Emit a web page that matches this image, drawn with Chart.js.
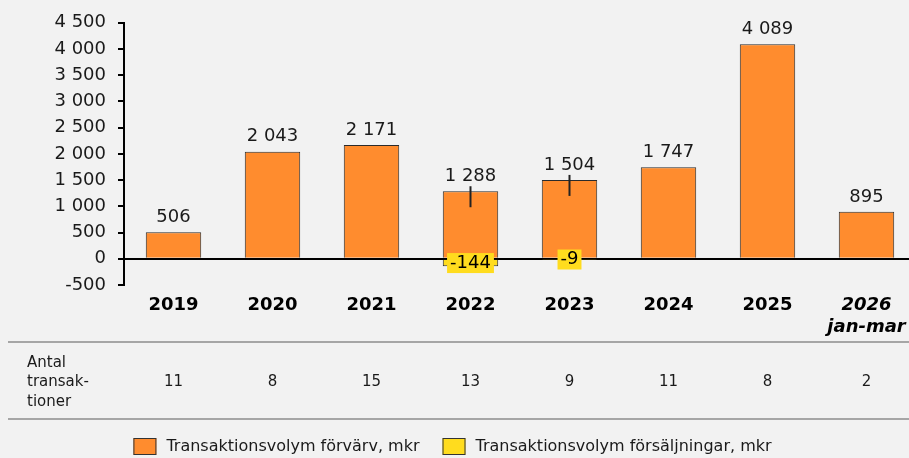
<!DOCTYPE html>
<html>
<head>
<meta charset="utf-8">
<script src="https://cdn.jsdelivr.net/npm/chart.js@4.4.1/dist/chart.umd.min.js"></script>
<style>
  html, body { margin: 0; padding: 0; background: #f2f2f2; overflow: hidden; }
  #wrap { position: relative; width: 916px; height: 458px; }
</style>
</head>
<body>
<div id="wrap"><canvas id="chart"></canvas></div>
<script>
// ---------- DATA ----------
let years = ["2019", "2020", "2021", "2022", "2023", "2024", "2025", ["2026", "jan-mar"]];
let acquisitions = [506, 2043, 2171, 1288, 1504, 1747, 4089, 895];
let sales = [null, null, null, -144, -9, null, null, null];
let transactions = [11, 8, 15, 13, 9, 11, 8, 2];
let tableHeader = ["Antal", "transak-", "tioner"];
let legendNames = ["Transaktionsvolym förvärv, mkr", "Transaktionsvolym försäljningar, mkr"];
let yMin = -500, yMax = 4500, yStep = 500;
let leaderLines = [3, 4]; // bars whose label has a small line down into the bar

const FONT = "'DejaVu Sans', Verdana, sans-serif";
const ORANGE = "#ff8c2e";
const YELLOW = "#ffdc1e";
const TEXT = "#1a1a1a";

function fmt(v) {
  let s = String(Math.abs(v)).replace(/\B(?=(\d{3})+(?!\d))/g, " ");
  return (v < 0 ? "-" : "") + s;
}

// ---------- LABELS ON BARS ----------
const barLabels = {
  id: "barLabels",
  afterDatasetsDraw(chart) {
    const ctx = chart.ctx;
    ctx.save();
    ctx.font = "18px " + FONT;
    ctx.textAlign = "center";
    ctx.textBaseline = "middle";

    chart.getDatasetMeta(0).data.forEach((bar, i) => {
      ctx.fillStyle = TEXT;
      ctx.fillText(fmt(acquisitions[i]), bar.x, bar.y - 15);
      if (leaderLines.includes(i)) {
        ctx.strokeStyle = "#222";
        ctx.lineWidth = 2;
        ctx.beginPath();
        ctx.moveTo(bar.x, bar.y - 5);
        ctx.lineTo(bar.x, bar.y + 16);
        ctx.stroke();
      }
    });

    chart.getDatasetMeta(1).data.forEach((bar, i) => {
      if (sales[i] === null) return;
      let txt = fmt(sales[i]);
      let w = ctx.measureText(txt).width + 6;
      let cy = (bar.y + bar.base) / 2;
      ctx.fillStyle = YELLOW;
      ctx.fillRect(bar.x - w / 2, cy - 10, w, 20);
      ctx.fillStyle = "#000";
      ctx.fillText(txt, bar.x, cy);
    });
    ctx.restore();
  }
};

// ---------- TABLE + LEGEND ----------
const tableAndLegend = {
  id: "tableAndLegend",
  afterDraw(chart) {
    const ctx = chart.ctx;
    const x = chart.scales.x;
    ctx.save();

    ctx.strokeStyle = "#a6a6a6";
    ctx.lineWidth = 2;
    [342, 419].forEach(y => {
      ctx.beginPath();
      ctx.moveTo(8, y);
      ctx.lineTo(chart.width, y);
      ctx.stroke();
    });

    ctx.font = "15px " + FONT;
    ctx.fillStyle = TEXT;
    ctx.textBaseline = "middle";
    ctx.textAlign = "left";
    tableHeader.forEach((t, i) => ctx.fillText(t, 27, 363 + i * 19.5));
    ctx.textAlign = "center";
    transactions.forEach((n, i) => ctx.fillText(String(n), x.getPixelForValue(i), 382));

    // legend
    ctx.font = "16px " + FONT;
    const boxW = 23, boxH = 17, gap = 10, spacer = 23;
    const colors = [ORANGE, YELLOW];
    let widths = legendNames.map(n => ctx.measureText(n).width);
    let total = widths.reduce((a, b) => a + b, 0) + 2 * (boxW + gap) + spacer;
    let lx = 452.5 - total / 2;
    const ly = 446.5;
    ctx.textAlign = "left";
    legendNames.forEach((name, i) => {
      ctx.fillStyle = colors[i];
      ctx.fillRect(lx, ly - boxH / 2, boxW, boxH);
      ctx.strokeStyle = "#333";
      ctx.lineWidth = 1;
      ctx.strokeRect(lx + 0.5, ly - boxH / 2 + 0.5, boxW - 1, boxH - 1);
      lx += boxW + gap;
      ctx.fillStyle = TEXT;
      ctx.fillText(name, lx, ly);
      lx += widths[i] + spacer;
    });
    ctx.restore();
  }
};

new Chart(document.getElementById("chart"), {
  type: "bar",
  data: {
    labels: years,
    datasets: [
      {
        label: legendNames[0],
        data: acquisitions,
        backgroundColor: ORANGE,
        borderColor: "#2b2b2b",
        borderWidth: 1,
        barPercentage: 0.56,
        categoryPercentage: 1
      },
      {
        label: legendNames[1],
        data: sales,
        backgroundColor: YELLOW,
        borderColor: "#2b2b2b",
        borderWidth: 1,
        barPercentage: 0.56,
        categoryPercentage: 1
      }
    ]
  },
  options: {
    responsive: true,
    maintainAspectRatio: false,
    animation: false,
    layout: { padding: { top: 21, bottom: 0, left: 0, right: 0 } },
    plugins: {
      legend: { display: false },
      tooltip: { enabled: false }
    },
    scales: {
      x: {
        stacked: true,
        grid: { display: false, drawTicks: false },
        border: { display: false },
        afterFit: scale => { scale.height = 173; },
        ticks: {
          padding: 9,
          color: "#000",
          maxRotation: 0,
          autoSkip: false,
          font: ctx => ({
            family: FONT,
            size: 18,
            weight: "bold",
            style: ctx.index === 7 ? "italic" : "normal",
            lineHeight: 1.25
          })
        }
      },
      y: {
        stacked: true,
        min: yMin,
        max: yMax,
        afterFit: scale => { scale.width = 124; },
        border: { display: true, color: "#000", width: 2 },
        grid: {
          drawTicks: true,
          tickLength: 6,
          tickColor: "#000",
          tickWidth: 2,
          lineWidth: 2,
          color: ctx => (ctx.tick && ctx.tick.value === 0 ? "#000" : "rgba(0,0,0,0)")
        },
        ticks: {
          stepSize: yStep,
          padding: 12,
          color: TEXT,
          font: { family: FONT, size: 18 },
          callback: v => fmt(v)
        }
      }
    }
  },
  plugins: [barLabels, tableAndLegend]
});
</script>
</body>
</html>
